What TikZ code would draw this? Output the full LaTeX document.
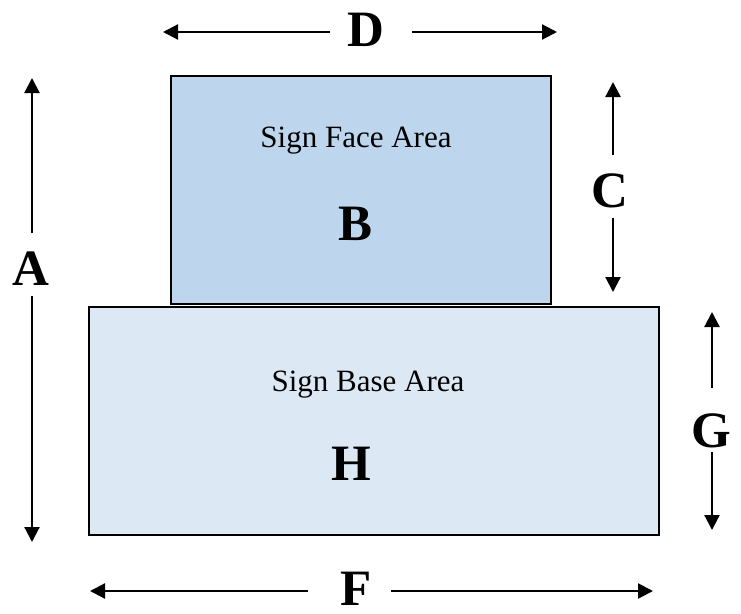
\documentclass[tikz,border=0pt]{standalone}
\usepackage{fontspec}
\setmainfont{Liberation Serif}
\usetikzlibrary{arrows.meta}
\definecolor{facecol}{HTML}{BDD5ED}
\definecolor{basecol}{HTML}{DDE8F5}
\begin{document}
\begin{tikzpicture}[x=1pt,y=-1pt,
  dimline/.style={line width=2.2pt,-{Triangle[length=15pt,width=15pt]}},
  boxstyle/.style={draw=black,line width=1.6pt,inner sep=0pt,anchor=north west},
  biglet/.style={font=\fontsize{51}{51}\selectfont\bfseries,inner sep=0pt,anchor=base},
  areatxt/.style={font=\fontsize{31}{31}\selectfont,inner sep=0pt,anchor=base}]
\useasboundingbox (0,0) rectangle (741,613);
% boxes
\node[boxstyle,fill=basecol,minimum width=570pt,minimum height=228pt] (base) at (88,306) {};
\node[boxstyle,fill=facecol,minimum width=380pt,minimum height=228pt] (face) at (170,75) {};
% texts
\node[areatxt] (facetxt) at (356,147) {Sign Face Area};
\node[biglet] (B) at (356,240) {B};
\node[areatxt] (basetxt) at (368,391) {Sign Base Area};
\node[biglet] (H) at (351,480) {H};
% dimension labels
\node[biglet] (D) at (366,46) {D};
\node[biglet] (A) at (31,285) {A};
\node[biglet] (C) at (610,207) {C};
\node[biglet] (G) at (711,447) {G};
\node[biglet] (F) at (356,605) {F};
% coordinates
\coordinate (D1) at (330,32); \coordinate (D1t) at (163,32);
\coordinate (D2) at (412,32); \coordinate (D2t) at (557,32);
\coordinate (A1) at (32,233); \coordinate (A1t) at (32,78);
\coordinate (A2) at (32,296); \coordinate (A2t) at (32,542);
\coordinate (C1) at (613,155); \coordinate (C1t) at (613,82);
\coordinate (C2) at (613,218); \coordinate (C2t) at (613,292);
\coordinate (G1) at (712,388); \coordinate (G1t) at (712,312);
\coordinate (G2) at (712,452); \coordinate (G2t) at (712,530);
\coordinate (F1) at (308,591); \coordinate (F1t) at (90,591);
\coordinate (F2) at (391,591); \coordinate (F2t) at (653,591);
% arrows
\draw[dimline] (D1) -- (D1t);
\draw[dimline] (D2) -- (D2t);
\draw[dimline] (A1) -- (A1t);
\draw[dimline] (A2) -- (A2t);
\draw[dimline] (C1) -- (C1t);
\draw[dimline] (C2) -- (C2t);
\draw[dimline] (G1) -- (G1t);
\draw[dimline] (G2) -- (G2t);
\draw[dimline] (F1) -- (F1t);
\draw[dimline] (F2) -- (F2t);
\end{tikzpicture}
\end{document}
